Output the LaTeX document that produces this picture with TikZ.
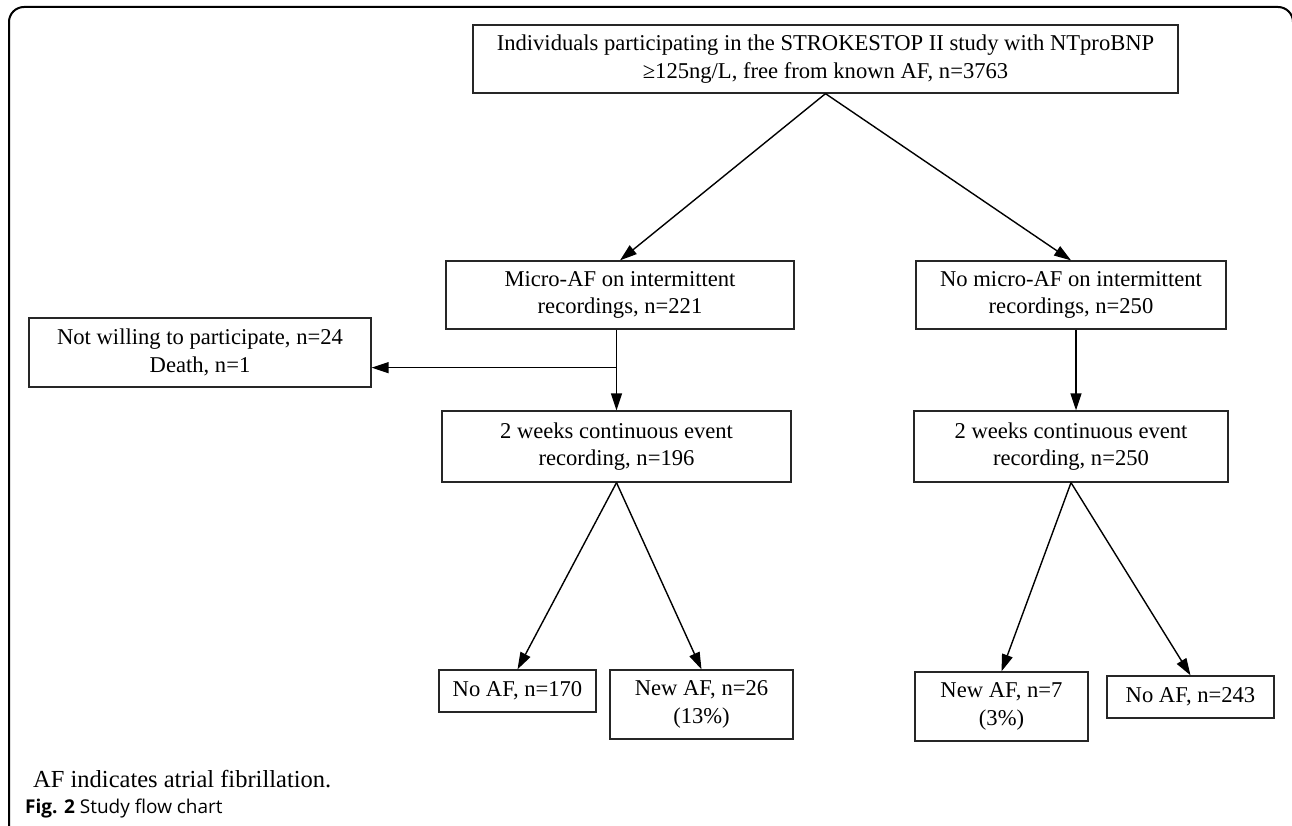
\documentclass[tikz,border=0pt]{standalone}
\usepackage{fontspec}
\setmainfont{Liberation Serif}
\newfontfamily\capfont{Open Sans}
\usetikzlibrary{arrows.meta}

\begin{document}
\begin{tikzpicture}[x=1pt,y=-1pt,
		box/.style={draw=black!85,line width=1.3pt,inner sep=0pt,align=center,font=\fontsize{22.6}{27.5}\selectfont},
		arr/.style={line width=1.4pt,-{Triangle[length=17pt,width=11pt]}}]
				\useasboundingbox (0,0) rectangle (1292,826);
				\begin{scope}
					\clip (0,0) rectangle (1292,826);
					\draw [line width=2pt,rounded corners=15pt] (9,840)--(9,7)--(1293,7)--(1293,840);
				\end{scope}
				% boxes
				\node [box,minimum width=705pt,minimum height=68pt] (top) at (825.5,59) {Individuals participating in the STROKESTOP II study with NTproBNP\\ ≥125ng/L, free from known AF, n=3763};
				\node [box,minimum width=348pt,minimum height=68pt] (micro) at (620,295) {Micro-AF on intermittent\\ recordings, n=221};
				\node [box,minimum width=310pt,minimum height=68pt] (nomicro) at (1071,295) {No micro-AF on intermittent\\ recordings, n=250};
				\node [box,minimum width=342pt,minimum height=69pt] (notw) at (200,352.5) {Not willing to participate, n=24\\ Death, n=1};
				\node [box,minimum width=349pt,minimum height=71pt] (twoL) at (616.5,446.5) {2 weeks continuous event\\ recording, n=196};
				\node [box,minimum width=314pt,minimum height=71pt] (twoR) at (1071,446.5) {2 weeks continuous event\\ recording, n=250};
				\node [box,minimum width=157pt,minimum height=42pt] (noL) at (517.5,691) {No AF, n=170};
				\node [box,minimum width=183pt,minimum height=69pt] (newL) at (701.5,704.5) {New AF, n=26\\ (13\%)};
				\node [box,minimum width=173pt,minimum height=69pt] (newR) at (1001.5,706.5) {New AF, n=7\\ (3\%)};
				\node [box,minimum width=167pt,minimum height=42pt] (noR) at (1190.5,697) {No AF, n=243};
				% arrows
				\coordinate (split) at ([yshift=-38pt]micro.south -| twoL.north);
				\draw [arr] (top.south)--(micro.north);
				\draw [arr] (top.south)--(nomicro.north);
				\draw [arr] (twoL.north |- micro.south)--(twoL.north);
				\draw [arr] (split)--(split -| notw.east);
				\draw [arr] ([xshift=5pt]nomicro.south)--([xshift=5pt]twoR.north);
				\draw [arr] (twoL.south)--(noL.north);
				\draw [arr] (twoL.south)--(newL.north);
				\draw [arr] (twoR.south)--(newR.north);
				\draw [arr] (twoR.south)--(noR.north);
				% caption
				\node [anchor=base west,inner sep=0pt,font=\fontsize{24.5}{29}\selectfont] (note) at (33,787) {AF indicates atrial fibrillation.};
				\node [anchor=base west,inner sep=0pt,font=\capfont\fontsize{19}{23}\selectfont] (cap) at (25,813) {\textbf{Fig. 2} Study flow chart};
			\end{tikzpicture}
\end{document}
